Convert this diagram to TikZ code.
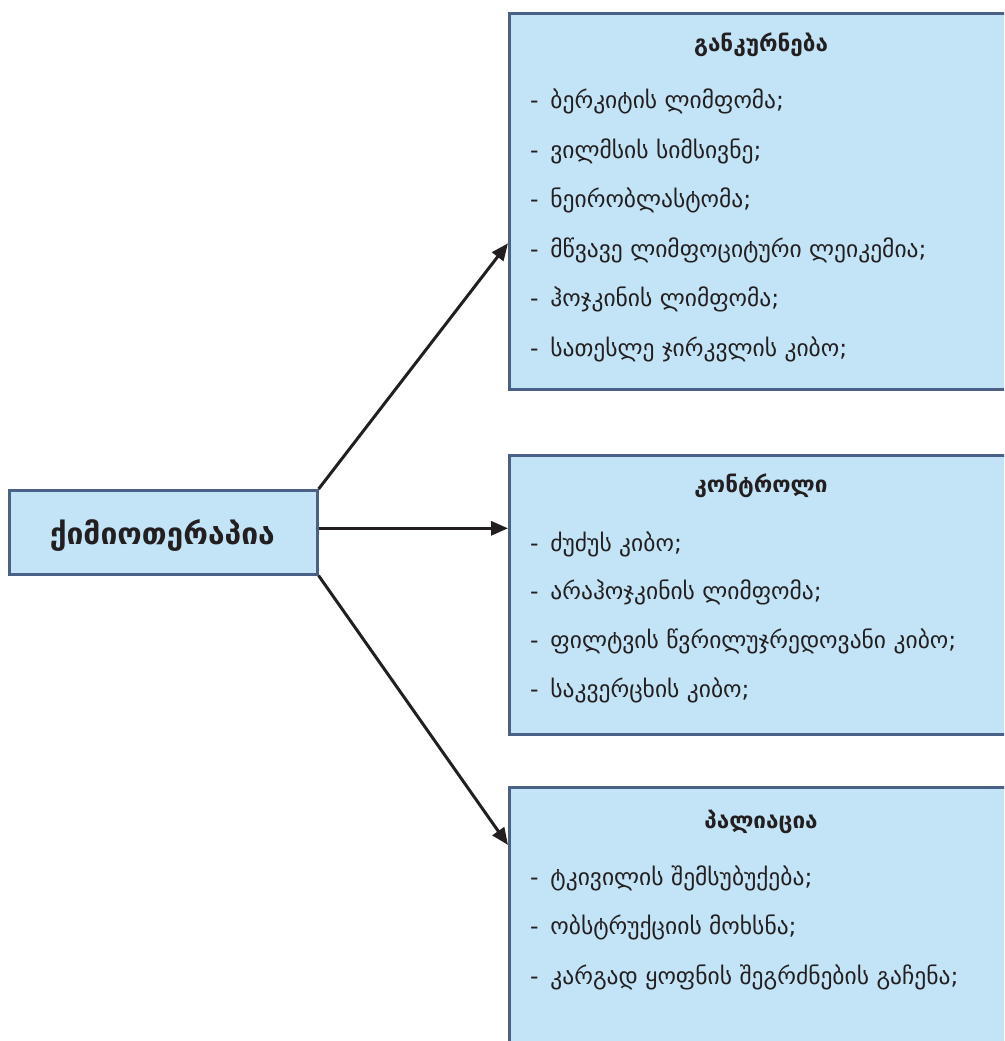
\documentclass[tikz,border=0pt]{standalone}
\usepackage{fontspec}
\setmainfont{DejaVu Sans}
\usetikzlibrary{arrows.meta}
\definecolor{boxfill}{HTML}{C2E4F6}
\definecolor{boxline}{HTML}{4A6087}
\definecolor{arrowc}{HTML}{231F20}
\definecolor{textc}{HTML}{231F20}
\tikzset{
  panel/.style={draw=boxline, fill=boxfill, line width=2.6pt, rectangle, anchor=north west, inner sep=0pt},
  heading/.style={font=\bfseries\fontsize{22.5}{26}\selectfont, text=textc, anchor=center, inner sep=0pt},
  entry/.style={font=\fontsize{23.5}{28}\selectfont, text=textc, anchor=west, inner sep=0pt},
  link/.style={draw=arrowc, line width=3pt, -{Triangle[length=17pt,width=14pt]}}
}
\begin{document}
\begin{tikzpicture}[x=1pt,y=-1pt]
\useasboundingbox (0,0) rectangle (1004,1041);
\clip (0,0) rectangle (1004,1041);

% main node
\node[panel, minimum width=308pt, minimum height=84pt] (chemo) at (8,489) {};
\node[font=\bfseries\fontsize{30}{36}\selectfont, text=textc, inner sep=0pt] (chemotxt) at ([xshift=-1pt,yshift=-3pt]chemo.center) {ქიმიოთერაპია};

% three target panels
\node[panel, minimum width=510pt, minimum height=376pt] (cure) at (508,12) {};
\node[panel, minimum width=510pt, minimum height=279pt] (ctrl) at (508,454) {};
\node[panel, minimum width=510pt, minimum height=280pt] (pall) at (508,786) {};

% headings
\node[heading] (h1) at (761,45) {განკურნება};
\node[heading] (h2) at (761,486) {კონტროლი};
\node[heading] (h3) at (761,822) {პალიაცია};

% entries
\node[entry] (a1) at (530,101) {-\enspace ბერკიტის ლიმფომა;};
\node[entry] (a2) at (530,151) {-\enspace ვილმსის სიმსივნე;};
\node[entry] (a3) at (530,200) {-\enspace ნეირობლასტომა;};
\node[entry] (a4) at (530,250) {-\enspace მწვავე ლიმფოციტური ლეიკემია;};
\node[entry] (a5) at (530,299) {-\enspace ჰოჯკინის ლიმფომა;};
\node[entry] (a6) at (530,349) {-\enspace სათესლე ჯირკვლის კიბო;};

\node[entry] (b1) at (530,544) {-\enspace ძუძუს კიბო;};
\node[entry] (b2) at (530,592) {-\enspace არაჰოჯკინის ლიმფომა;};
\node[entry] (b3) at (530,641) {-\enspace ფილტვის წვრილუჯრედოვანი კიბო;};
\node[entry] (b4) at (530,690) {-\enspace საკვერცხის კიბო;};

\node[entry] (c1) at (530,878) {-\enspace ტკივილის შემსუბუქება;};
\node[entry] (c2) at (530,927) {-\enspace ობსტრუქციის მოხსნა;};
\node[entry] (c3) at (530,977) {-\enspace კარგად ყოფნის შეგრძნების გაჩენა;};

% connectors
\draw[link] (chemo.north east) -- ([yshift=-42pt]cure.west);
\draw[link] ([yshift=4pt]chemo.east) -- ([yshift=4pt]chemo.east -| ctrl.west);
\draw[link] (chemo.south east) -- ([yshift=-59pt]pall.north west);
\end{tikzpicture}
\end{document}
